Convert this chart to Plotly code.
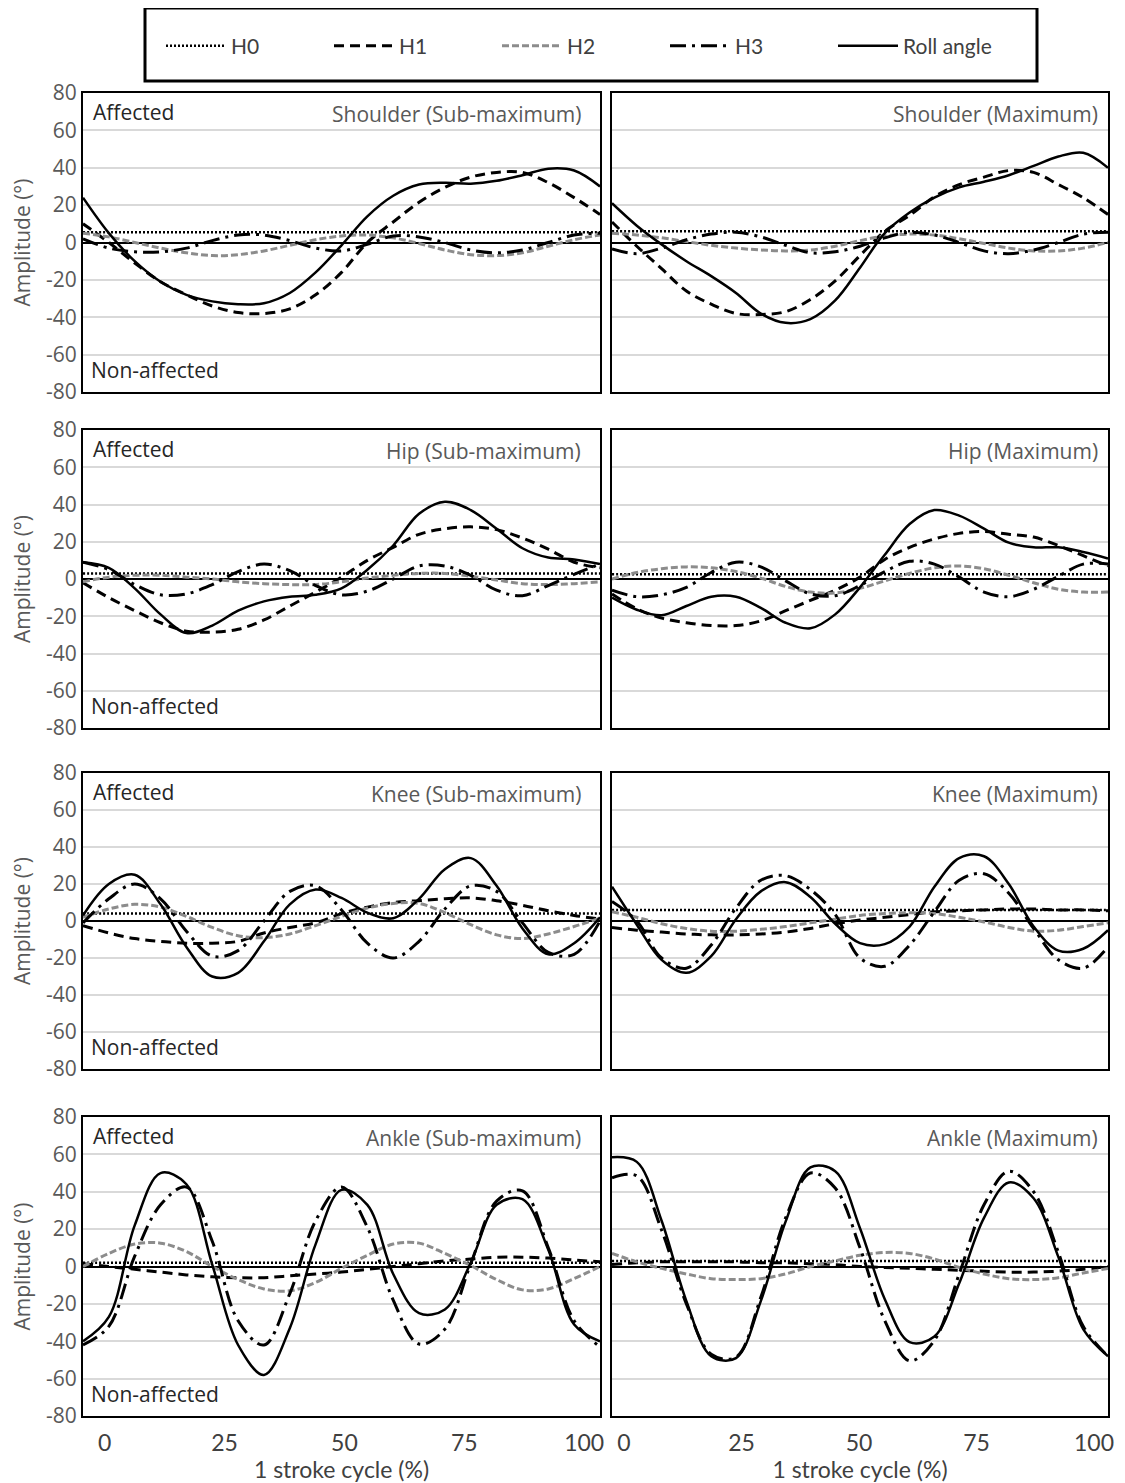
import plotly.graph_objects as go

# page body adds an 8px margin, so the figure is 8px smaller than the window
OFF = 8
FW, FH = 1125 - OFF, 1483 - OFF

# ---------------- data ----------------
x_pct = [0, 5, 10, 15, 20, 25, 30, 35, 40, 45, 50, 55, 60, 65, 70, 75, 80, 85, 90, 95, 100]

series_names = ["H0", "H1", "H2", "H3", "Roll angle"]
panel_titles = ["Shoulder (Sub-maximum)", "Shoulder (Maximum)",
                "Hip (Sub-maximum)", "Hip (Maximum)",
                "Knee (Sub-maximum)", "Knee (Maximum)",
                "Ankle (Sub-maximum)", "Ankle (Maximum)"]
y_tick_vals = [-80, -60, -40, -20, 0, 20, 40, 60, 80]
y_tick_labels = ["-80", "-60", "-40", "-20", "0", "20", "40", "60", "80"]
x_tick_vals = [0, 25, 50, 75, 100]
x_tick_labels = ["0", "25", "50", "75", "100"]

shoulder_sub_h0 = [5.5, 5.5, 5.5, 5.5, 5.5, 5.5, 5.5, 5.5, 5.5, 5.5, 5.5, 5.5, 5.5, 5.5, 5.5, 5.5, 5.5, 5.5, 5.5, 5.5, 5.5]
shoulder_sub_h1 = [10, 0, -11, -21, -28, -34, -37.5, -38, -35.5, -28, -16, 0, 11, 21.5, 29.5, 35, 37.5, 37.5, 32, 24, 15]
shoulder_sub_h2 = [5, 3, 0, -3, -5.5, -7, -6.5, -4.5, -1.5, 1.5, 3.5, 4, 2.5, -0.5, -4, -6.5, -7, -5.5, -2, 1.5, 4]
shoulder_sub_h3 = [2, -3, -5, -5, -3, 1, 4, 4, 1, -3, -4.5, -1, 3.5, 3, 0, -4, -5.5, -4, 0, 4, 5]
shoulder_sub_roll = [24, 5, -10, -21, -28, -31.5, -33, -32.5, -27, -16, -1.5, 14, 25, 31, 32, 31.5, 33, 36, 39.5, 38.5, 30]

shoulder_max_h0 = [6, 6, 6, 6, 6, 6, 6, 6, 6, 6, 6, 6, 6, 6, 6, 6, 6, 6, 6, 6, 6]
shoulder_max_h1 = [11, -2, -14, -26, -33, -38, -38.5, -37, -30.5, -20.5, -7, 6, 14.5, 24.5, 31, 35, 38.5, 37.5, 31, 24, 15]
shoulder_max_h2 = [5, 4, 2.5, 0.5, -1.5, -3, -4, -4.5, -4, -2, 1, 3.5, 4.5, 4, 2, -0.5, -3, -4.5, -4.5, -3, 0]
shoulder_max_h3 = [-3.5, -6, -3, 1.5, 4.5, 5.5, 3, -1.5, -5.5, -5, -2, 2.5, 5.5, 4, 0, -4.5, -6, -4, 0, 4.5, 5.5]
shoulder_max_roll = [21, 9, -1, -10, -18, -27, -38, -43, -41, -31, -13.5, 5, 16, 24, 29.5, 32.5, 36, 41, 46, 48, 40]

hip_sub_h0 = [3, 3, 3, 3, 3, 3, 3, 3, 3, 3, 3, 3, 3, 3, 3, 3, 3, 3, 3, 3, 3]
hip_sub_h1 = [-2, -10, -17, -23.5, -28, -28.5, -27, -22, -14.5, -7, 1, 10, 17, 24, 27, 28, 26.5, 22, 16, 9, 6]
hip_sub_h2 = [-1.5, 1, 2, 2, 1, 0, -1.5, -2.5, -3, -3, -1.5, 0.5, 2, 3, 3, 1.5, -0.5, -2.5, -3, -2.5, -1.5]
hip_sub_h3 = [9, 5, -3, -8.5, -8, -3, 4, 8, 4.5, -3.5, -8.5, -6.5, 0, 7, 7, 2, -6, -9, -3.5, 2.5, 8]
hip_sub_roll = [9, 6, -5, -19, -29, -25, -17, -12, -9.5, -8.5, -5, 5, 18, 35, 41.5, 37, 27, 16.5, 11.5, 10.5, 8]

hip_max_h0 = [2.5, 2.5, 2.5, 2.5, 2.5, 2.5, 2.5, 2.5, 2.5, 2.5, 2.5, 2.5, 2.5, 2.5, 2.5, 2.5, 2.5, 2.5, 2.5, 2.5, 2.5]
hip_max_h1 = [-8, -16, -21, -23.5, -25, -25, -22.5, -17, -11.5, -6, 1, 10.5, 17, 21.5, 24.5, 25.5, 24, 22.5, 18, 12.5, 7]
hip_max_h2 = [0, 3.5, 5.5, 6.5, 6, 4, 0.5, -4, -7, -7.5, -5, -1, 3, 6, 7, 5.5, 2, -2, -5.5, -7, -7]
hip_max_h3 = [-6, -9.5, -8.5, -4.5, 3.5, 9, 6.5, -1, -8, -9, -3.5, 4, 9.5, 8, 1, -7, -9.5, -5.5, 1.5, 8, 8]
hip_max_roll = [-10, -16.5, -19.5, -14.5, -9.5, -9.5, -15.5, -23.5, -26.5, -19, -4.5, 13, 29.5, 37, 34, 27, 19.5, 17, 17, 14.5, 11]

knee_sub_h0 = [4, 4, 4, 4, 4, 4, 4, 4, 4, 4, 4, 4, 4, 4, 4, 4, 4, 4, 4, 4, 4]
knee_sub_h1 = [-2.5, -6.5, -9.5, -11, -12, -12, -11, -6.5, -3.5, -1, 4, 7.5, 10, 11, 12, 12.5, 11, 8.5, 5.5, 3, 1]
knee_sub_h2 = [2, 6.5, 9, 7.5, 2.5, -3.5, -8, -9, -7, -2.5, 2.5, 7, 9.5, 9.5, 4.5, -2, -7.5, -9.5, -7, -3, 1.5]
knee_sub_h3 = [-1, 12, 20, 12, -5.5, -19, -16, 0, 16, 19, 6, -12, -20, -11, 6.5, 19, 16, -1, -17, -18, 0]
knee_sub_roll = [3, 20, 25, 9, -14, -30, -28, -11, 9, 17, 12.5, 4.5, 1.5, 12, 28, 34, 19, -4, -18, -12, 2]

knee_max_h0 = [6, 6, 6, 6, 6, 6, 6, 6, 6, 6, 6, 6, 6, 6, 6, 6, 6, 6, 6, 6, 6]
knee_max_h1 = [-3.5, -5, -6, -7, -7.5, -7.5, -7, -6, -4, -1.5, 0.5, 2, 3.5, 5, 5.5, 6, 6.5, 6.5, 6, 6, 5.5]
knee_max_h2 = [5, 2, -1.5, -4, -5.5, -5.5, -4.5, -3, -1, 1, 3, 4, 4.5, 4, 2, -0.5, -3.5, -5.5, -5, -3, -1]
knee_max_h3 = [10.5, 0, -20, -25.5, -13, 7, 22, 24.5, 17, 3.5, -20, -24.5, -13, 5, 22, 25.5, 15, -4, -21, -25.5, -14]
knee_max_roll = [18.5, -2, -21, -28, -19, 1, 16, 21, 13, -1.5, -12, -12.5, -3, 18.5, 34, 35, 20, -3, -16, -15, -5]

ankle_sub_h0 = [2, 2, 2, 2, 2, 2, 2, 2, 2, 2, 2, 2, 2, 2, 2, 2, 2, 2, 2, 2, 2]
ankle_sub_h1 = [1.5, 0, -1.5, -3, -4.5, -5.5, -6, -6, -5, -4, -3, -1.5, 0, 1.5, 3, 4, 5, 5, 4.5, 3.5, 2.5]
ankle_sub_h2 = [0, 7, 12, 12.5, 8, 0, -7, -12, -13, -8.5, -1, 6, 12, 12.5, 7, 0.5, -7, -12.5, -12, -6.5, 0]
ankle_sub_h3 = [-42, -32, 5.5, 33, 42.5, 13.5, -29, -42, -14.5, 24.5, 42.5, 21, -18, -41.5, -33.5, 1.5, 35, 40.5, 10, -29, -43]
ankle_sub_roll = [-40, -27, 22, 50, 44, 1, -42, -58, -33, 12, 41, 33, -4, -25, -23, 2, 33, 36, 9, -31, -40]

ankle_max_h0 = [3, 3, 3, 3, 3, 3, 3, 3, 3, 3, 3, 3, 3, 3, 3, 3, 3, 3, 3, 3, 3]
ankle_max_h1 = [1, 2, 2.5, 2.5, 2.5, 2.5, 2, 2, 1.5, 1, 0, -0.5, -1, -1.5, -2, -2.5, -3, -3, -2.5, -1.5, 0]
ankle_max_h2 = [7, 2.5, -1, -4, -6.5, -7, -6.5, -4, 0, 3, 6, 7.5, 7, 4, -0.5, -4, -6.5, -7, -6, -3.5, -1]
ankle_max_h3 = [47.5, 48.5, 19.5, -20, -47, -48.5, -16.5, 26, 50, 42, 10, -29, -50.5, -39.5, -4, 33, 51, 40, 7.5, -32, -48]
ankle_max_roll = [58.5, 56, 24.5, -18.5, -48, -49, -18.5, 24, 53, 51, 20.5, -17.5, -40.5, -37.5, -9, 26, 45, 36.5, 5, -33.5, -48]

panels = [
    [shoulder_sub_h0, shoulder_sub_h1, shoulder_sub_h2, shoulder_sub_h3, shoulder_sub_roll],
    [shoulder_max_h0, shoulder_max_h1, shoulder_max_h2, shoulder_max_h3, shoulder_max_roll],
    [hip_sub_h0, hip_sub_h1, hip_sub_h2, hip_sub_h3, hip_sub_roll],
    [hip_max_h0, hip_max_h1, hip_max_h2, hip_max_h3, hip_max_roll],
    [knee_sub_h0, knee_sub_h1, knee_sub_h2, knee_sub_h3, knee_sub_roll],
    [knee_max_h0, knee_max_h1, knee_max_h2, knee_max_h3, knee_max_roll],
    [ankle_sub_h0, ankle_sub_h1, ankle_sub_h2, ankle_sub_h3, ankle_sub_roll],
    [ankle_max_h0, ankle_max_h1, ankle_max_h2, ankle_max_h3, ankle_max_roll],
]

# ---------------- styles ----------------
styles = {
    "H0": dict(color="black", width=2.5, dash="2px,2px"),
    "H1": dict(color="black", width=3, dash="10px,6px"),
    "H2": dict(color="#8c8c8c", width=3, dash="7px,3px"),
    "H3": dict(color="black", width=3, dash="16px,6px,3px,6px"),
    "Roll angle": dict(color="black", width=2.5, dash="solid"),
}

# panel frames in window pixels
rows_px = [(93, 392), (430, 728), (773, 1069), (1117, 1416)]
cols_px = [(83, 600), (612, 1108)]


def px_x(X):
    return (X - OFF) / FW


def px_y(Y):
    return 1 - (Y - OFF) / FH


TXT = "Open Sans"
COND = "Lato"


def ax_id(n):
    return "" if n == 1 else str(n)


fig = go.Figure()
layout = {}
annotations = []

for i, series in enumerate(panels):
    r, c = divmod(i, 2)
    n = i + 1
    xa, ya = "x" + ax_id(n), "y" + ax_id(n)
    for name, vals in zip(series_names, series):
        st = styles[name]
        fig.add_trace(go.Scatter(
            x=x_pct, y=vals, xaxis=xa, yaxis=ya, mode="lines", name=name,
            legendgroup=name, showlegend=(n == 1), hoverinfo="skip",
            line=dict(color=st["color"], width=st["width"], dash=st["dash"],
                      shape="spline", smoothing=1.0)))
    x0, x1 = cols_px[c]
    top, bot = rows_px[r]
    layout["xaxis" + ax_id(n)] = dict(
        domain=[px_x(x0), px_x(x1)], anchor=ya, range=[0, 100],
        showgrid=False, zeroline=False, showline=True, mirror=True,
        linecolor="black", linewidth=2, showticklabels=False, ticks="")
    yax = dict(
        domain=[px_y(bot), px_y(top)], anchor=xa, range=[-80, 80],
        tickvals=y_tick_vals, ticktext=y_tick_labels,
        showgrid=True, gridcolor="#d9d9d9", gridwidth=2,
        zeroline=True, zerolinecolor="black", zerolinewidth=1.5,
        showline=True, mirror=True, linecolor="black", linewidth=2,
        ticks="", showticklabels=(c == 0),
        tickfont=dict(family=TXT, size=21, color="#595959"))
    if c == 0:
        yax["title"] = dict(text="Amplitude (°)", standoff=10,
                            font=dict(family=TXT, size=21, color="#595959"))
        annotations.append(dict(text="Affected", xref=f"{xa} domain", yref=f"{ya} domain",
                                x=0, y=1, xshift=8, yshift=-19, xanchor="left", yanchor="middle",
                                showarrow=False, font=dict(family=TXT, size=21, color="#262626")))
        annotations.append(dict(text="Non-affected", xref=f"{xa} domain", yref=f"{ya} domain",
                                x=0, y=0, xshift=6, yshift=22, xanchor="left", yanchor="middle",
                                showarrow=False, font=dict(family=TXT, size=21, color="#262626")))
    layout["yaxis" + ax_id(n)] = yax
    annotations.append(dict(text=panel_titles[i], xref=f"{xa} domain", yref=f"{ya} domain",
                            x=1, y=1, xshift=(-17 if c == 0 else -8), yshift=-21,
                            xanchor="right", yanchor="middle", showarrow=False,
                            font=dict(family=TXT, size=21, color="#595959")))

# tick-label axes for the bottom row (labels sit slightly inside the frame as in the original)
for base, anc, newn, rng in [("x7", "y7", 9, [-4.5, 103.3]), ("x8", "y8", 10, [-2.55, 102.98])]:
    # empty trace so that the label axis is instantiated
    fig.add_trace(go.Scatter(x=[], y=[], xaxis=f"x{newn}", yaxis=anc, showlegend=False,
                             hoverinfo="skip", mode="lines"))
    layout[f"xaxis{newn}"] = dict(
        overlaying=base, anchor=anc, side="bottom",
        range=rng, tickvals=x_tick_vals, ticktext=x_tick_labels,
        showgrid=False, zeroline=False, showline=False,
        ticks="outside", ticklen=6, tickcolor="rgba(0,0,0,0)",
        tickfont=dict(family=COND, size=23, color="#404040"),
        title=dict(text="1 stroke cycle (%)", standoff=2,
                   font=dict(family=COND, size=23, color="#404040")))

fig.update_layout(
    width=FW, height=FH, margin=dict(l=0, r=0, t=0, b=0, autoexpand=False),
    paper_bgcolor="white", plot_bgcolor="white",
    annotations=annotations,
    legend=dict(orientation="h", x=px_x(161), xanchor="left", y=px_y(46), yanchor="middle",
                font=dict(family=COND, size=21, color="#404040"),
                entrywidth=93, entrywidthmode="pixels", itemwidth=60,
                bgcolor="rgba(0,0,0,0)", traceorder="normal"),
    shapes=[dict(type="rect", xref="paper", yref="paper",
                 x0=px_x(145), x1=px_x(1037), y0=px_y(81), y1=px_y(8),
                 line=dict(color="black", width=3), fillcolor="rgba(0,0,0,0)")],
    **layout,
)

fig.write_html("out.html")
